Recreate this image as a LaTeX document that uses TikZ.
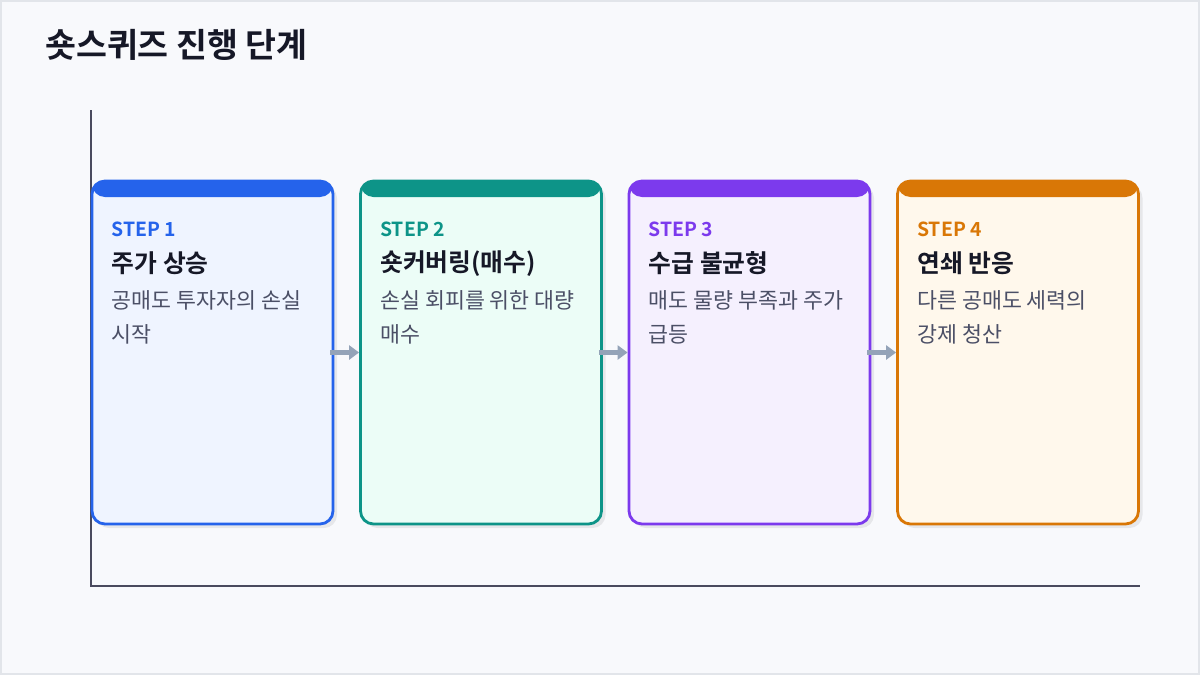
\documentclass[tikz,border=0pt]{standalone}
\usepackage{xcolor}
\usepackage{fontspec}
\setmainfont{Noto Sans CJK KR}[BoldFont={Noto Sans CJK KR Bold}]
\usepackage{tikz}
\usetikzlibrary{shapes,arrows,arrows.meta,positioning,shadows}

\definecolor{pagebg}{HTML}{F8F9FC}
\definecolor{pageframe}{HTML}{E2E5EA}
\definecolor{axisgray}{HTML}{4A4A5E}
\definecolor{flowgray}{HTML}{94A3B8}
\definecolor{inkdark}{HTML}{161827}
\definecolor{inkdesc}{HTML}{4B4F66}
\definecolor{stepblue}{HTML}{2563EB}
\definecolor{fillblue}{HTML}{EFF4FF}
\definecolor{stepteal}{HTML}{0D9488}
\definecolor{fillteal}{HTML}{ECFDF7}
\definecolor{steppurple}{HTML}{7C3AED}
\definecolor{fillpurple}{HTML}{F5F0FE}
\definecolor{steporange}{HTML}{D97706}
\definecolor{fillorange}{HTML}{FFF8EC}

\begin{document}
\begin{tikzpicture}[
    x=1pt, y=-1pt,
    card/.style 2 args={draw=#1, fill=#2, line width=2.8pt, rounded corners=13pt,
        minimum width=241pt, minimum height=343pt, inner sep=0pt,
        drop shadow={shadow xshift=4pt, shadow yshift=-4pt, fill=black, opacity=0.07},
        path picture={\fill[#1] (path picture bounding box.north west) rectangle
            ([yshift=-16pt]path picture bounding box.north east);}},
    steptag/.style={anchor=west, inner sep=0pt, font=\bfseries\fontsize{19.4}{19.4}\selectfont},
    ttl/.style={anchor=west, inner sep=0pt, text=inkdark, font=\bfseries\fontsize{24.8}{24.8}\selectfont},
    desc/.style={anchor=west, inner sep=0pt, align=left, text=inkdesc, font=\fontsize{21.7}{34}\selectfont},
    flow/.style={draw=flowgray, line width=4.5pt, -{Triangle[length=10pt,width=14pt]}}
]
    \useasboundingbox (0,0) rectangle (1200,675);
    \fill[pagebg, draw=pageframe, line width=2pt] (1,1) rectangle (1199,674);

    % title
    \node[anchor=west, inner sep=0pt, text=inkdark, font=\bfseries\fontsize{33.6}{33.6}\selectfont]
        (title) at (45,45) {숏스퀴즈 진행 단계};

    % axes
    \coordinate (ytop) at (91,110);
    \coordinate (xend) at (1140,586);
    \draw[axisgray, line width=1.5pt] (ytop) |- (xend);

    % Step 1: price rise
    \node[card={stepblue}{fillblue}] (s1) at (212.5,352.5) {};
    \node[steptag, text=stepblue] (tag1) at ([shift={(21,50)}]s1.north west) {STEP 1};
    \node[ttl] (ttl1) at ([shift={(21,84)}]s1.north west) {주가 상승};
    \node[desc] (desc1) at ([shift={(21,138)}]s1.north west) {공매도 투자자의 손실\\시작};

    % Step 2: short covering
    \node[card={stepteal}{fillteal}] (s2) at (481,352.5) {};
    \node[steptag, text=stepteal] (tag2) at ([shift={(21,50)}]s2.north west) {STEP 2};
    \node[ttl] (ttl2) at ([shift={(21,84)}]s2.north west) {숏커버링(매수)};
    \node[desc] (desc2) at ([shift={(21,138)}]s2.north west) {손실 회피를 위한 대량\\매수};

    % Step 3: supply imbalance
    \node[card={steppurple}{fillpurple}] (s3) at (749.5,352.5) {};
    \node[steptag, text=steppurple] (tag3) at ([shift={(21,50)}]s3.north west) {STEP 3};
    \node[ttl] (ttl3) at ([shift={(21,84)}]s3.north west) {수급 불균형};
    \node[desc] (desc3) at ([shift={(21,138)}]s3.north west) {매도 물량 부족과 주가\\급등};

    % Step 4: chain reaction
    \node[card={steporange}{fillorange}] (s4) at (1018,352.5) {};
    \node[steptag, text=steporange] (tag4) at ([shift={(21,50)}]s4.north west) {STEP 4};
    \node[ttl] (ttl4) at ([shift={(21,84)}]s4.north west) {연쇄 반응};
    \node[desc] (desc4) at ([shift={(21,138)}]s4.north west) {다른 공매도 세력의\\강제 청산};

    % arrows between steps
    \draw[flow] ([xshift=-4pt]s1.east) -- (s2.west);
    \draw[flow] ([xshift=-4pt]s2.east) -- (s3.west);
    \draw[flow] ([xshift=-4pt]s3.east) -- (s4.west);
\end{tikzpicture}
\end{document}
